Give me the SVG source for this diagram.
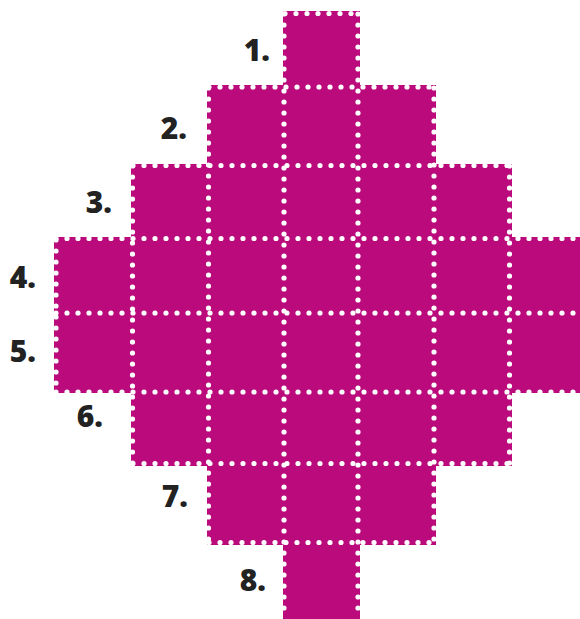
<svg xmlns="http://www.w3.org/2000/svg" width="580" height="619" viewBox="0 0 580 619">
<style>
.cell{fill:#BA0A7C}
.lbl{font-family:"Open Sans","Liberation Sans",sans-serif;font-weight:800;font-size:30px;fill:#222;text-anchor:end}
.dot{stroke:#fff;stroke-width:5.2;stroke-linecap:round;stroke-dasharray:0 11;fill:none}
</style>
<rect width="580" height="619" fill="#fff"/>
<g id="row1"><rect class="cell" x="283" y="11" width="77" height="75"/><text class="lbl" x="270" y="61">1.</text></g>
<g id="row2"><rect class="cell" x="207" y="85" width="229" height="80"/><text class="lbl" x="187" y="139">2.</text></g>
<g id="row3"><rect class="cell" x="131" y="164" width="381" height="74"/><text class="lbl" x="112" y="213">3.</text></g>
<g id="row4"><rect class="cell" x="54" y="237" width="526" height="76"/><text class="lbl" x="36" y="288">4.</text></g>
<g id="row5"><rect class="cell" x="54" y="312" width="526" height="81"/><text class="lbl" x="36" y="362">5.</text></g>
<g id="row6"><rect class="cell" x="131" y="392" width="381" height="74"/><text class="lbl" x="103" y="427">6.</text></g>
<g id="row7"><rect class="cell" x="207" y="465" width="229" height="80"/><text class="lbl" x="188" y="507">7.</text></g>
<g id="row8"><rect class="cell" x="283" y="544" width="77" height="75"/><text class="lbl" x="266" y="591">8.</text></g>
<g id="connectors">
<line class="dot" x1="285" y1="13.5" x2="358" y2="13.5"/>
<line class="dot" x1="209" y1="87" x2="434" y2="87"/>
<line class="dot" x1="133" y1="165.5" x2="510" y2="165.5"/>
<line class="dot" x1="56" y1="238.5" x2="580" y2="238.5"/>
<line class="dot" x1="56" y1="313" x2="580" y2="313"/>
<line class="dot" x1="56" y1="392" x2="580" y2="392"/>
<line class="dot" x1="133" y1="463.5" x2="510" y2="463.5"/>
<line class="dot" x1="209" y1="542.5" x2="434" y2="542.5"/>
<line class="dot" x1="56" y1="240" x2="56" y2="392"/>
<line class="dot" x1="132.5" y1="166" x2="132.5" y2="464"/>
<line class="dot" x1="208.5" y1="88" x2="208.5" y2="543"/>
<line class="dot" x1="284" y1="14" x2="284" y2="619"/>
<line class="dot" x1="358" y1="14" x2="358" y2="619"/>
<line class="dot" x1="434" y1="88" x2="434" y2="543"/>
<line class="dot" x1="509.5" y1="166" x2="509.5" y2="464"/>
</g>
</svg>
